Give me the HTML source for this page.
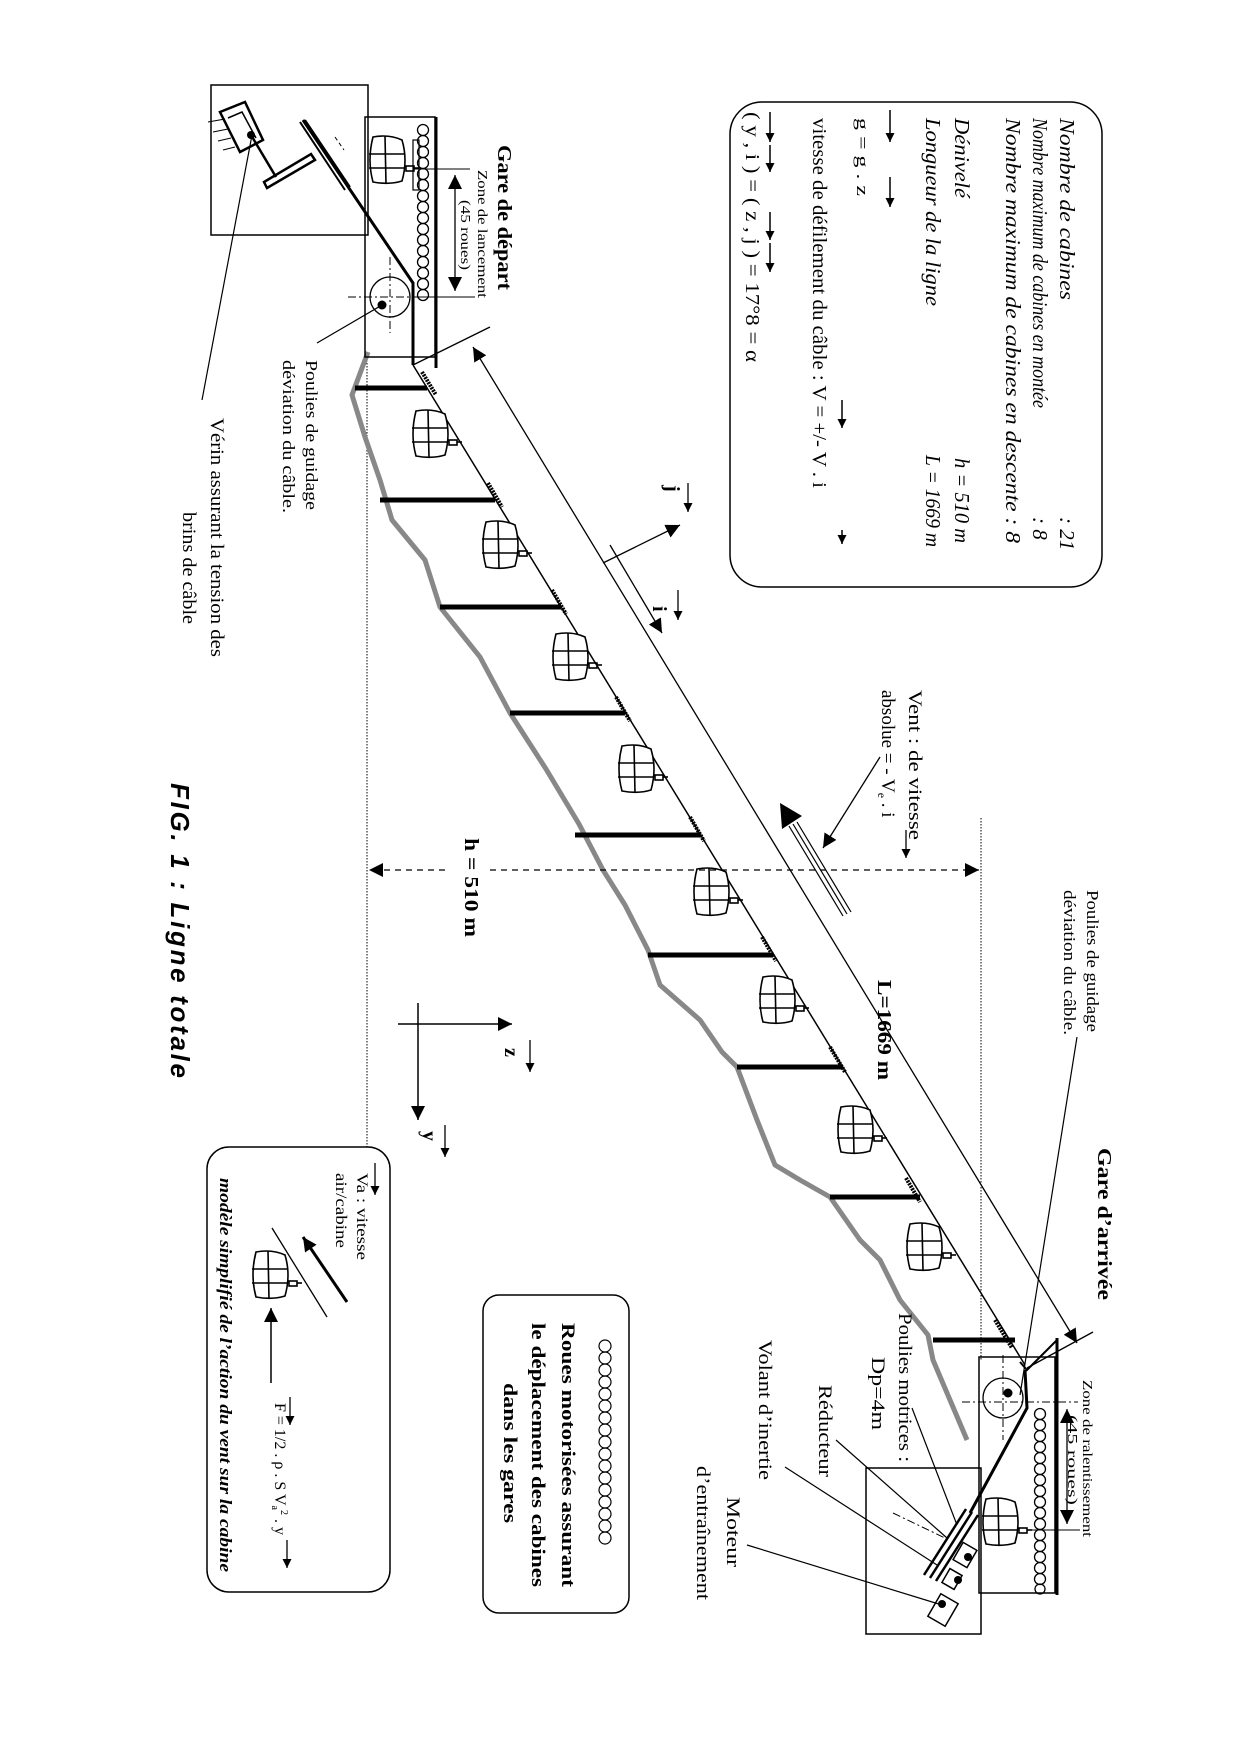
<!DOCTYPE html>
<html><head><meta charset="utf-8"><style>
html,body{margin:0;padding:0;background:#fff}
svg{display:block}
text{font-family:"Liberation Serif",serif;fill:#000}
</style></head><body>
<svg width="1240" height="1754" viewBox="0 0 1240 1754" xmlns="http://www.w3.org/2000/svg">
<defs>
<marker id="ah" viewBox="0 0 10 10" refX="10" refY="5" markerWidth="14" markerHeight="14" markerUnits="userSpaceOnUse" orient="auto-start-reverse"><path d="M0,0 L10,5 L0,10z"/></marker>
<marker id="as" viewBox="0 0 10 10" refX="10" refY="5" markerWidth="9" markerHeight="9" markerUnits="userSpaceOnUse" orient="auto-start-reverse"><path d="M0,0 L10,5 L0,10z"/></marker>
<g id="cab" fill="none" stroke="#000" stroke-width="1.6">
<path d="M-14,-23 Q2,-26 15,-20 Q21,0 15,21 Q2,25 -14,22 Q-20,0 -14,-23Z" fill="#fff"/>
<line x1="-2" y1="-24" x2="-1" y2="24"/><line x1="-18" y1="-6" x2="18" y2="-6"/><line x1="-18" y1="8" x2="18" y2="8"/>
<rect x="19" y="6" width="8" height="5"/><line x1="27" y1="8" x2="32" y2="8"/>
</g>
</defs>

<!-- dotted verticals -->
<line x1="367" y1="357" x2="367" y2="1147" stroke="#000" stroke-width="1" stroke-dasharray="1.5,1.5"/>
<line x1="981" y1="818" x2="981" y2="1360" stroke="#000" stroke-width="1" stroke-dasharray="1.5,1.5"/>

<!-- terrain -->
<polyline fill="none" stroke="#888" stroke-width="5" stroke-linejoin="round" points="368,352 352,395 365,437 380,480 392,520 425,560 440,607 480,657 510,713 546,769 579,824 603,870 625,905 648,950 660,985 700,1020 722,1052 737,1067 757,1120 775,1165 800,1180 830,1197 860,1240 880,1260 900,1300 928,1335 933,1360 950,1400 967,1440"/>

<!-- pylons -->
<g stroke="#000" stroke-width="5">
<line x1="355" y1="388" x2="427" y2="388"/>
<line x1="380" y1="500" x2="495" y2="500"/>
<line x1="440" y1="607" x2="561" y2="607"/>
<line x1="510" y1="713" x2="625" y2="713"/>
<line x1="575" y1="835" x2="700" y2="835"/>
<line x1="648" y1="955" x2="773" y2="955"/>
<line x1="737" y1="1067" x2="842" y2="1067"/>
<line x1="830" y1="1197" x2="920" y2="1197"/>
<line x1="933" y1="1340" x2="1015" y2="1340"/>
</g>

<!-- cable -->
<line x1="413" y1="365" x2="1025" y2="1365" stroke="#000" stroke-width="1.5"/>
<g stroke="#000" stroke-width="4" stroke-dasharray="2,1">
<line x1="422" y1="372" x2="436" y2="395"/>
<line x1="488" y1="483" x2="502" y2="507"/>
<line x1="552" y1="590" x2="566" y2="614"/>
<line x1="616" y1="697" x2="630" y2="721"/>
<line x1="690" y1="817" x2="704" y2="841"/>
<line x1="762" y1="937" x2="776" y2="961"/>
<line x1="830" y1="1047" x2="845" y2="1072"/>
<line x1="906" y1="1178" x2="920" y2="1202"/>
<line x1="995" y1="1320" x2="1012" y2="1348"/>
</g>

<!-- cabins on line -->
<use href="#cab" x="430" y="434"/>
<use href="#cab" x="500" y="545"/>
<use href="#cab" x="570" y="657"/>
<use href="#cab" x="636" y="769"/>
<use href="#cab" x="711" y="892"/>
<use href="#cab" x="777" y="1000"/>
<use href="#cab" x="855" y="1130"/>
<use href="#cab" x="924" y="1247"/>

<!-- L dimension -->
<line x1="473" y1="347" x2="1077" y2="1343" stroke="#000" stroke-width="1.3" marker-start="url(#ah)" marker-end="url(#ah)"/>
<line x1="490" y1="327" x2="413" y2="365" stroke="#000" stroke-width="1.3"/>
<line x1="1093" y1="1332" x2="1027" y2="1368" stroke="#000" stroke-width="1.3"/>

<!-- h dimension -->
<line x1="445" y1="870" x2="369" y2="870" stroke="#000" stroke-width="1.3" stroke-dasharray="6,5" marker-end="url(#ah)"/>
<line x1="490" y1="870" x2="979" y2="870" stroke="#000" stroke-width="1.3" stroke-dasharray="6,5" marker-end="url(#ah)"/>

<!-- i j axes -->
<line x1="603" y1="563" x2="680" y2="525" stroke="#000" stroke-width="1.3" marker-end="url(#ah)"/>
<line x1="610" y1="545" x2="662" y2="633" stroke="#000" stroke-width="1.3" marker-end="url(#ah)"/>
<text transform="translate(666,485) rotate(90)" font-size="20" font-weight="bold">j</text>
<line x1="688" y1="483" x2="688" y2="512" stroke="#000" stroke-width="1.3" marker-end="url(#as)"/>
<text transform="translate(653,606) rotate(90)" font-size="20" font-weight="bold">i</text>
<line x1="678" y1="590" x2="678" y2="620" stroke="#000" stroke-width="1.3" marker-end="url(#as)"/>

<!-- wind -->
<g stroke="#000" stroke-width="1.2">
<line x1="797" y1="822" x2="851" y2="912"/>
<line x1="793" y1="824" x2="847" y2="914"/>
<line x1="789" y1="826" x2="843" y2="916"/>
</g>
<polygon points="780,803 802,816 782,829" fill="#000"/>
<line x1="880" y1="757" x2="823" y2="848" stroke="#000" stroke-width="1.3" marker-end="url(#ah)"/>
<text transform="translate(909,690) rotate(90)" font-size="19" textLength="150" lengthAdjust="spacingAndGlyphs">Vent : de vitesse</text>
<text transform="translate(882,690) rotate(90)" font-size="19">absolue = - V<tspan font-size="12" dy="4">e</tspan><tspan dy="-4"> . i</tspan></text>
<line x1="906" y1="830" x2="906" y2="858" stroke="#000" stroke-width="1.3" marker-end="url(#as)"/>

<!-- Departure station -->
<rect x="211" y="85" width="157" height="150" fill="none" stroke="#000" stroke-width="1.5"/>
<rect x="365" y="117" width="70" height="240" fill="none" stroke="#000" stroke-width="1.5"/>
<line x1="436" y1="117" x2="436" y2="368" stroke="#000" stroke-width="3"/>
<g fill="none" stroke="#000" stroke-width="1.3">
<circle cx="423" cy="130" r="5.5"/><circle cx="423" cy="141" r="5.5"/><circle cx="423" cy="152" r="5.5"/><circle cx="423" cy="163" r="5.5"/><circle cx="423" cy="174" r="5.5"/><circle cx="423" cy="185" r="5.5"/><circle cx="423" cy="196" r="5.5"/><circle cx="423" cy="207" r="5.5"/><circle cx="423" cy="218" r="5.5"/><circle cx="423" cy="229" r="5.5"/><circle cx="423" cy="240" r="5.5"/><circle cx="423" cy="251" r="5.5"/><circle cx="423" cy="262" r="5.5"/><circle cx="423" cy="273" r="5.5"/><circle cx="423" cy="284" r="5.5"/><circle cx="423" cy="295" r="5.5"/>
<circle cx="390" cy="297" r="20"/>
</g>
<rect x="413" y="140" width="6" height="50" fill="none" stroke="#000" stroke-width="1.2"/>
<use href="#cab" x="387" y="160"/>
<circle cx="382" cy="305" r="4.5"/>
<line x1="348" y1="297" x2="412" y2="297" stroke="#000" stroke-width="1" stroke-dasharray="8,3,2,3"/>
<line x1="390" y1="257" x2="390" y2="333" stroke="#000" stroke-width="1" stroke-dasharray="8,3,2,3"/>
<polyline points="303,120 413,283 413,365" fill="none" stroke="#000" stroke-width="3"/>
<line x1="382" y1="305" x2="317" y2="343" stroke="#000" stroke-width="1.2"/>
<!-- dim -->
<line x1="413" y1="169" x2="470" y2="169" stroke="#000" stroke-width="1"/>
<line x1="413" y1="297" x2="475" y2="297" stroke="#000" stroke-width="1"/>
<line x1="455" y1="175" x2="455" y2="291" stroke="#000" stroke-width="1.3" marker-start="url(#ah)" marker-end="url(#ah)"/>
<!-- verin -->
<polygon points="220,112 245,102 263,140 240,152" fill="none" stroke="#000" stroke-width="2.5"/>
<polyline points="228,118 242,112 256,138" fill="none" stroke="#000" stroke-width="1.5"/>
<circle cx="251" cy="135" r="4"/>
<line x1="251" y1="135" x2="276" y2="177" stroke="#000" stroke-width="2.5"/>
<path d="M267,188 L315,160 L311,154 L264,182Z" fill="none" stroke="#000" stroke-width="2.5"/>
<line x1="300" y1="122" x2="345" y2="190" stroke="#000" stroke-width="2"/>
<line x1="305" y1="120" x2="350" y2="187" stroke="#000" stroke-width="2"/>
<line x1="335" y1="137" x2="344" y2="150" stroke="#000" stroke-width="1" stroke-dasharray="4,3"/>
<g stroke="#000" stroke-width="1"><line x1="208" y1="122" x2="225" y2="119"/><line x1="213" y1="132" x2="228" y2="129"/><line x1="218" y1="141" x2="231" y2="138"/><line x1="223" y1="150" x2="235" y2="147"/></g>
<line x1="252" y1="135" x2="202" y2="400" stroke="#000" stroke-width="1.2"/>

<!-- Arrival station -->
<rect x="979" y="1357" width="76" height="236" fill="none" stroke="#000" stroke-width="1.5"/>
<rect x="866" y="1468" width="115" height="166" fill="none" stroke="#000" stroke-width="1.5"/>
<line x1="1057" y1="1338" x2="1057" y2="1595" stroke="#000" stroke-width="3"/>
<polyline points="1057,1340 1027,1370 1020,1362" fill="none" stroke="#000" stroke-width="2"/>
<g fill="none" stroke="#000" stroke-width="1.3">
<circle cx="1003" cy="1398" r="20"/>
<circle cx="1040" cy="1414" r="5.5"/><circle cx="1040" cy="1425" r="5.5"/><circle cx="1040" cy="1436" r="5.5"/><circle cx="1040" cy="1447" r="5.5"/><circle cx="1040" cy="1458" r="5.5"/><circle cx="1040" cy="1469" r="5.5"/><circle cx="1040" cy="1480" r="5.5"/><circle cx="1040" cy="1491" r="5.5"/><circle cx="1040" cy="1502" r="5.5"/><circle cx="1040" cy="1513" r="5.5"/><circle cx="1040" cy="1524" r="5.5"/><circle cx="1040" cy="1535" r="5.5"/><circle cx="1040" cy="1546" r="5.5"/><circle cx="1040" cy="1557" r="5.5"/><circle cx="1040" cy="1568" r="5.5"/><circle cx="1040" cy="1579" r="5.5"/><circle cx="1040" cy="1589" r="5"/>
</g>
<circle cx="1008" cy="1393" r="4.5"/>
<line x1="962" y1="1402" x2="1078" y2="1402" stroke="#000" stroke-width="1" stroke-dasharray="8,3,2,3"/>
<line x1="1003" y1="1355" x2="1003" y2="1440" stroke="#000" stroke-width="1" stroke-dasharray="8,3,2,3"/>
<use href="#cab" x="1000" y="1522"/>
<line x1="1030" y1="1530" x2="1080" y2="1530" stroke="#000" stroke-width="1"/>
<line x1="1067" y1="1409" x2="1067" y2="1524" stroke="#000" stroke-width="1.3" marker-start="url(#ah)" marker-end="url(#ah)"/>
<polyline points="1025,1370 1027,1408 970,1513" fill="none" stroke="#000" stroke-width="3"/>
<g stroke="#000" stroke-width="2.5"><line x1="972" y1="1512" x2="930" y2="1578"/><line x1="978" y1="1515" x2="936" y2="1581"/><line x1="966" y1="1509" x2="924" y2="1575"/></g>
<g fill="none" stroke="#000" stroke-width="1.5">
<rect x="955" y="1547" width="20" height="16" transform="rotate(-60 965 1555)"/>
<rect x="944" y="1572" width="16" height="14" transform="rotate(-60 952 1579)"/>
<rect x="930" y="1600" width="26" height="20" transform="rotate(-60 943 1610)"/>
</g>
<circle cx="968" cy="1557" r="4"/><circle cx="958" cy="1580" r="4"/><circle cx="942" cy="1604" r="4"/>
<line x1="893" y1="1513" x2="945" y2="1538" stroke="#000" stroke-width="1" stroke-dasharray="8,3,2,3"/>
<g stroke="#000" stroke-width="1.2">
<line x1="912" y1="1408" x2="957" y2="1525"/>
<line x1="836" y1="1440" x2="947" y2="1538"/>
<line x1="785" y1="1467" x2="937" y2="1565"/>
<line x1="747" y1="1545" x2="942" y2="1605"/>
<line x1="1077" y1="1037" x2="1020" y2="1395"/>
</g>

<!-- z y axes -->
<line x1="398" y1="1024" x2="512" y2="1024" stroke="#000" stroke-width="1.5" marker-end="url(#ah)"/>
<line x1="418" y1="1003" x2="418" y2="1120" stroke="#000" stroke-width="1.5" marker-end="url(#ah)"/>
<text transform="translate(505,1048) rotate(90)" font-size="20" font-weight="bold">z</text>
<line x1="530" y1="1040" x2="530" y2="1072" stroke="#000" stroke-width="1.3" marker-end="url(#as)"/>
<text transform="translate(423,1131) rotate(90)" font-size="20" font-weight="bold">y</text>
<line x1="445" y1="1125" x2="445" y2="1157" stroke="#000" stroke-width="1.3" marker-end="url(#as)"/>

<!-- info box -->
<rect x="730" y="102" width="372" height="485" rx="32" fill="none" stroke="#000" stroke-width="1.5"/>
<g font-style="italic" font-size="21">
<text transform="translate(1060,118) rotate(90)" textLength="182" lengthAdjust="spacingAndGlyphs">Nombre de cabines</text>
<text transform="translate(1060,517) rotate(90)">: 21</text>
<text transform="translate(1033,118) rotate(90)" textLength="290" lengthAdjust="spacingAndGlyphs">Nombre maximum de cabines en montée</text>
<text transform="translate(1033,517) rotate(90)">: 8</text>
<text transform="translate(1006,118) rotate(90)" textLength="425" lengthAdjust="spacingAndGlyphs">Nombre maximum de cabines en descente  : 8</text>
<text transform="translate(955,118) rotate(90)" textLength="80" lengthAdjust="spacingAndGlyphs">Dénivelé</text>
<text transform="translate(955,458) rotate(90)" textLength="85" lengthAdjust="spacingAndGlyphs">h  = 510 m</text>
<text transform="translate(926,118) rotate(90)" textLength="188" lengthAdjust="spacingAndGlyphs">Longueur de la ligne</text>
<text transform="translate(926,455) rotate(90)" textLength="92" lengthAdjust="spacingAndGlyphs">L  = 1669 m</text>
</g>
<text transform="translate(857,118) rotate(90)" font-size="17" textLength="78" lengthAdjust="spacingAndGlyphs">g = g . z</text>
<line x1="890" y1="110" x2="890" y2="142" stroke="#000" stroke-width="1.5" marker-end="url(#as)"/>
<line x1="890" y1="177" x2="890" y2="207" stroke="#000" stroke-width="1.5" marker-end="url(#as)"/>
<text transform="translate(813,118) rotate(90)" font-size="20" textLength="370" lengthAdjust="spacingAndGlyphs">vitesse de défilement du câble : V = +/-  V . i</text>
<line x1="842" y1="400" x2="842" y2="428" stroke="#000" stroke-width="1.5" marker-end="url(#as)"/>
<line x1="842" y1="530" x2="842" y2="544" stroke="#000" stroke-width="1.5" marker-end="url(#as)"/>
<text transform="translate(746,112) rotate(90)" font-size="20" textLength="250" lengthAdjust="spacingAndGlyphs">( y , i ) =  ( z , j ) = 17°8 = α</text>
<line x1="770" y1="112" x2="770" y2="142" stroke="#000" stroke-width="1.5" marker-end="url(#as)"/>
<line x1="770" y1="145" x2="770" y2="172" stroke="#000" stroke-width="1.5" marker-end="url(#as)"/>
<line x1="770" y1="212" x2="770" y2="240" stroke="#000" stroke-width="1.5" marker-end="url(#as)"/>
<line x1="770" y1="243" x2="770" y2="272" stroke="#000" stroke-width="1.5" marker-end="url(#as)"/>

<!-- roues box -->
<rect x="483" y="1295" width="146" height="318" rx="16" fill="none" stroke="#000" stroke-width="1.5"/>
<g fill="none" stroke="#000" stroke-width="1.2">
<circle cx="605" cy="1346" r="6"/><circle cx="605" cy="1358" r="6"/><circle cx="605" cy="1370" r="6"/><circle cx="605" cy="1382" r="6"/><circle cx="605" cy="1394" r="6"/><circle cx="605" cy="1406" r="6"/><circle cx="605" cy="1418" r="6"/><circle cx="605" cy="1430" r="6"/><circle cx="605" cy="1442" r="6"/><circle cx="605" cy="1454" r="6"/><circle cx="605" cy="1466" r="6"/><circle cx="605" cy="1478" r="6"/><circle cx="605" cy="1490" r="6"/><circle cx="605" cy="1502" r="6"/><circle cx="605" cy="1514" r="6"/><circle cx="605" cy="1526" r="6"/><circle cx="605" cy="1538" r="6"/>
</g>
<g font-weight="bold" font-size="19">
<text transform="translate(562,1323) rotate(90)" textLength="264" lengthAdjust="spacingAndGlyphs">Roues motorisées assurant</text>
<text transform="translate(532,1323) rotate(90)" textLength="264" lengthAdjust="spacingAndGlyphs">le déplacement des cabines</text>
<text transform="translate(504,1383) rotate(90)" textLength="140" lengthAdjust="spacingAndGlyphs">dans les gares</text>
</g>

<!-- wind model box -->
<rect x="207" y="1147" width="183" height="445" rx="22" fill="none" stroke="#000" stroke-width="1.5"/>
<text transform="translate(357,1173) rotate(90)" font-size="16" textLength="87" lengthAdjust="spacingAndGlyphs">Va : vitesse</text>
<text transform="translate(336,1173) rotate(90)" font-size="16" textLength="75" lengthAdjust="spacingAndGlyphs">air/cabine</text>
<line x1="375" y1="1163" x2="375" y2="1195" stroke="#000" stroke-width="1.3" marker-end="url(#as)"/>
<line x1="347" y1="1302" x2="303" y2="1237" stroke="#000" stroke-width="3" marker-end="url(#ah)"/>
<line x1="327" y1="1317" x2="272" y2="1228" stroke="#000" stroke-width="1.3"/>
<use href="#cab" x="270" y="1275"/>
<line x1="271" y1="1383" x2="271" y2="1308" stroke="#000" stroke-width="1.5" marker-end="url(#ah)"/>
<text transform="translate(275,1403) rotate(90)" font-size="16">F = 1/2 . ρ . S V<tspan font-size="10" dy="3">a</tspan><tspan font-size="10" dy="-9">2</tspan><tspan dy="6"> . y</tspan></text>
<line x1="290" y1="1397" x2="290" y2="1425" stroke="#000" stroke-width="1.3" marker-end="url(#as)"/>
<line x1="287" y1="1540" x2="287" y2="1568" stroke="#000" stroke-width="1.3" marker-end="url(#as)"/>
<text transform="translate(220,1178) rotate(90)" font-size="17" font-style="italic" font-weight="bold" textLength="394" lengthAdjust="spacingAndGlyphs">modèle simplifié de l’action du vent sur la cabine</text>

<!-- labels -->
<text transform="translate(498,145) rotate(90)" font-size="20" font-weight="bold" textLength="145" lengthAdjust="spacingAndGlyphs">Gare de départ</text>
<text transform="translate(478,170) rotate(90)" font-size="14" textLength="128" lengthAdjust="spacingAndGlyphs">Zone de lancement</text>
<text transform="translate(461,200) rotate(90)" font-size="14" textLength="70" lengthAdjust="spacingAndGlyphs">(45 roues)</text>
<text transform="translate(306,360) rotate(90)" font-size="17" textLength="150" lengthAdjust="spacingAndGlyphs">Poulies de guidage</text>
<text transform="translate(283,360) rotate(90)" font-size="17" textLength="153" lengthAdjust="spacingAndGlyphs">déviation du câble.</text>
<text transform="translate(211,418) rotate(90)" font-size="19" textLength="239" lengthAdjust="spacingAndGlyphs">Vérin assurant la tension des</text>
<text transform="translate(183,512) rotate(90)" font-size="19" textLength="112" lengthAdjust="spacingAndGlyphs">brins de câble</text>
<text transform="translate(878,980) rotate(90)" font-size="20" font-weight="bold" textLength="100" lengthAdjust="spacingAndGlyphs">L=1669 m</text>
<text transform="translate(465,838) rotate(90)" font-size="20" font-weight="bold" textLength="99" lengthAdjust="spacingAndGlyphs">h = 510 m</text>
<text transform="translate(171,783) rotate(90)" font-size="26" font-weight="bold" font-style="italic" style="font-family:'Liberation Sans',sans-serif" textLength="295" lengthAdjust="spacing">FIG. 1 : Ligne totale</text>
<text transform="translate(1087,890) rotate(90)" font-size="17" textLength="142" lengthAdjust="spacingAndGlyphs">Poulies de guidage</text>
<text transform="translate(1064,890) rotate(90)" font-size="17" textLength="145" lengthAdjust="spacingAndGlyphs">déviation du câble.</text>
<text transform="translate(1098,1148) rotate(90)" font-size="20" font-weight="bold" textLength="152" lengthAdjust="spacingAndGlyphs">Gare d’arrivée</text>
<text transform="translate(1083,1380) rotate(90)" font-size="14" textLength="157" lengthAdjust="spacingAndGlyphs">Zone de ralentissement</text>
<text transform="translate(1068,1415) rotate(90)" font-size="14" textLength="90" lengthAdjust="spacingAndGlyphs">(45 roues)</text>
<text transform="translate(899,1313) rotate(90)" font-size="19" textLength="149" lengthAdjust="spacingAndGlyphs">Poulies motrices :</text>
<text transform="translate(872,1357) rotate(90)" font-size="19" textLength="73" lengthAdjust="spacingAndGlyphs">Dp=4m</text>
<text transform="translate(819,1385) rotate(90)" font-size="19" textLength="92" lengthAdjust="spacingAndGlyphs">Réducteur</text>
<text transform="translate(759,1340) rotate(90)" font-size="19" textLength="140" lengthAdjust="spacingAndGlyphs">Volant d’inertie</text>
<text transform="translate(727,1497) rotate(90)" font-size="19" textLength="70" lengthAdjust="spacingAndGlyphs">Moteur</text>
<text transform="translate(697,1466) rotate(90)" font-size="19" textLength="134" lengthAdjust="spacingAndGlyphs">d’entraînement</text>
</svg>
</body></html>
